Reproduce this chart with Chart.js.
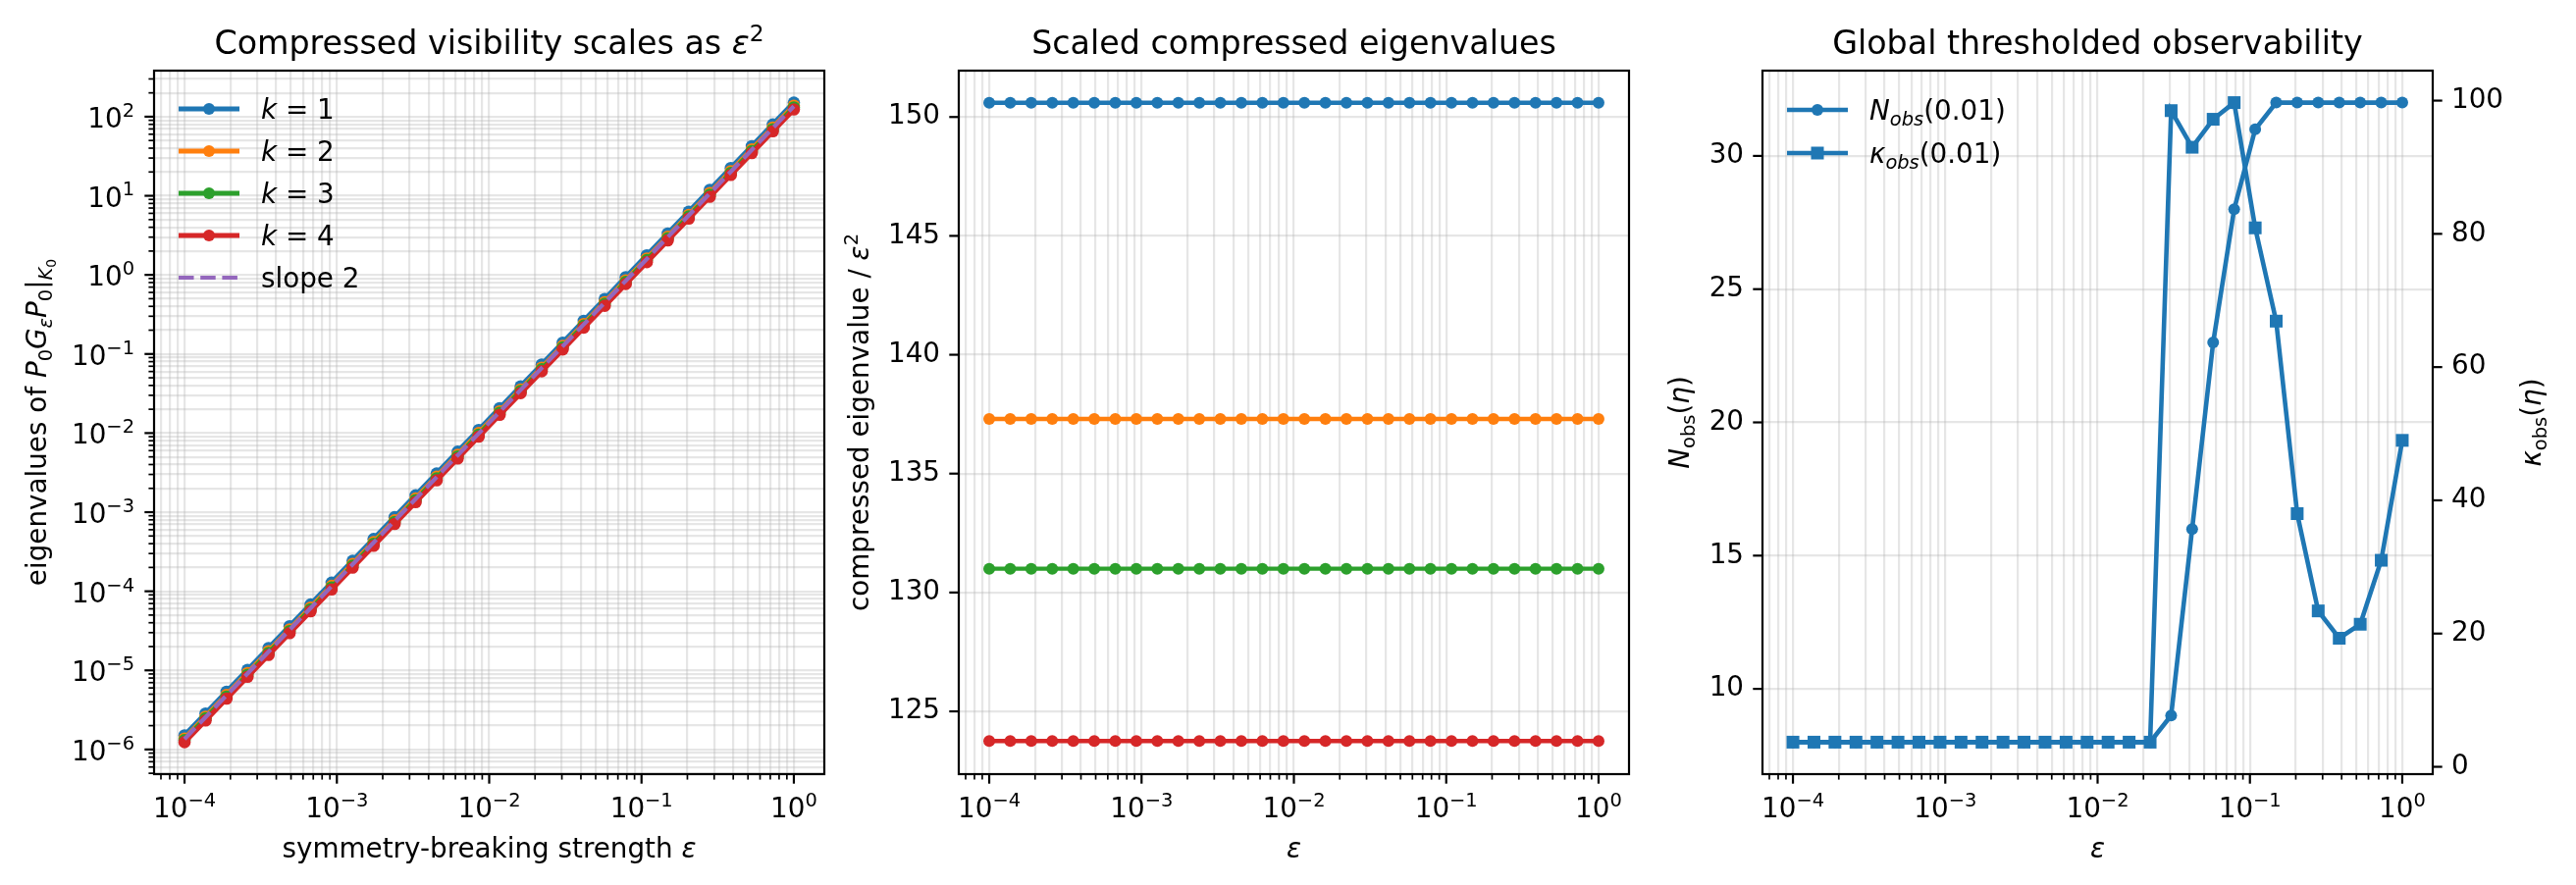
<!DOCTYPE html>
<html>
<head>
  <script src="https://cdn.jsdelivr.net/npm/chart.js"></script>
  <title>Compressed visibility</title>
  <style>
    body { margin: 0; background: #fff; }
    #wrap { position: relative; width: 2625px; height: 902px; overflow: hidden; background: #fff; }
    canvas { position: absolute; top: 0; }
  </style>
</head>
<body>
<div id="wrap">
  <canvas id="c1" width="900" height="902" style="left:0px"></canvas>
  <canvas id="c2" width="870" height="902" style="left:850px"></canvas>
  <canvas id="c3" width="945" height="902" style="left:1680px"></canvas>
</div>
<script>
// symmetry-breaking strengths (30 log-spaced points)
const eps = [1.000e-4, 1.374e-4, 1.887e-4, 2.593e-4, 3.562e-4, 4.894e-4, 6.723e-4, 9.237e-4,
  1.269e-3, 1.743e-3, 2.395e-3, 3.290e-3, 4.520e-3, 6.210e-3, 8.532e-3,
  1.172e-2, 1.610e-2, 2.212e-2, 3.039e-2, 4.175e-2, 5.736e-2, 7.880e-2,
  1.083e-1, 1.487e-1, 2.043e-1, 2.807e-1, 3.857e-1, 5.298e-1, 7.279e-1, 1.0];

// panel 1: eigenvalues of P0 G_eps P0 restricted to K0
const eigK1 = [1.506e-6, 2.842e-6, 5.364e-6, 1.013e-5, 1.911e-5, 3.607e-5, 6.807e-5, 1.285e-4,
  2.425e-4, 4.577e-4, 8.638e-4, 1.631e-3, 3.077e-3, 5.809e-3, 1.096e-2, 2.069e-2, 3.905e-2,
  7.370e-2, 1.391e-1, 2.625e-1, 4.955e-1, 9.352e-1, 1.765, 3.331, 6.288, 11.87, 22.40, 42.27, 79.79, 150.6];
const eigK2 = [1.373e-6, 2.591e-6, 4.891e-6, 9.231e-6, 1.742e-5, 3.288e-5, 6.206e-5, 1.171e-4,
  2.211e-4, 4.173e-4, 7.876e-4, 1.487e-3, 2.805e-3, 5.296e-3, 9.994e-3, 1.886e-2, 3.560e-2,
  6.719e-2, 1.268e-1, 2.393e-1, 4.517e-1, 8.526e-1, 1.609, 3.037, 5.732, 10.82, 20.42, 38.54, 72.74, 137.3];
const eigK3 = [1.310e-6, 2.472e-6, 4.666e-6, 8.807e-6, 1.662e-5, 3.137e-5, 5.921e-5, 1.118e-4,
  2.109e-4, 3.981e-4, 7.514e-4, 1.419e-3, 2.676e-3, 5.053e-3, 9.535e-3, 1.800e-2, 3.397e-2,
  6.411e-2, 1.210e-1, 2.283e-1, 4.310e-1, 8.135e-1, 1.535, 2.898, 5.469, 10.32, 19.48, 36.77, 69.40, 131.0];
const eigK4 = [1.237e-6, 2.334e-6, 4.406e-6, 8.316e-6, 1.570e-5, 2.963e-5, 5.591e-5, 1.055e-4,
  1.992e-4, 3.759e-4, 7.095e-4, 1.340e-3, 2.527e-3, 4.771e-3, 9.004e-3, 1.700e-2, 3.208e-2,
  6.054e-2, 1.143e-1, 2.156e-1, 4.070e-1, 7.682e-1, 1.450, 2.736, 5.164, 9.748, 18.39, 34.72, 65.54, 123.7];
const slope2 = [1.356e-6, 2.559e-6, 4.830e-6, 9.116e-6, 1.721e-5, 3.248e-5, 6.129e-5, 1.157e-4,
  2.183e-4, 4.121e-4, 7.778e-4, 1.469e-3, 2.770e-3, 5.230e-3, 9.870e-3, 1.863e-2, 3.516e-2,
  6.636e-2, 1.253e-1, 2.364e-1, 4.461e-1, 8.421e-1, 1.589, 3.000, 5.661, 10.69, 20.16, 38.06, 71.84, 135.6];

// panel 2: eigenvalue / eps^2
const scaledK1 = [150.6, 150.6, 150.6, 150.6, 150.6, 150.6, 150.6, 150.6, 150.6, 150.6, 150.6, 150.6, 150.6, 150.6, 150.6,
  150.6, 150.6, 150.6, 150.6, 150.6, 150.6, 150.6, 150.6, 150.6, 150.6, 150.6, 150.6, 150.6, 150.6, 150.6];
const scaledK2 = [137.3, 137.3, 137.3, 137.3, 137.3, 137.3, 137.3, 137.3, 137.3, 137.3, 137.3, 137.3, 137.3, 137.3, 137.3,
  137.3, 137.3, 137.3, 137.3, 137.3, 137.3, 137.3, 137.3, 137.3, 137.3, 137.3, 137.3, 137.3, 137.3, 137.3];
const scaledK3 = [131.0, 131.0, 131.0, 131.0, 131.0, 131.0, 131.0, 131.0, 131.0, 131.0, 131.0, 131.0, 131.0, 131.0, 131.0,
  131.0, 131.0, 131.0, 131.0, 131.0, 131.0, 131.0, 131.0, 131.0, 131.0, 131.0, 131.0, 131.0, 131.0, 131.0];
const scaledK4 = [123.75, 123.75, 123.75, 123.75, 123.75, 123.75, 123.75, 123.75, 123.75, 123.75, 123.75, 123.75, 123.75, 123.75, 123.75,
  123.75, 123.75, 123.75, 123.75, 123.75, 123.75, 123.75, 123.75, 123.75, 123.75, 123.75, 123.75, 123.75, 123.75, 123.75];

// panel 3: thresholded observability at eta = 0.01
const nObs = [8, 8, 8, 8, 8, 8, 8, 8, 8, 8, 8, 8, 8, 8, 8, 8, 8, 8, 9, 16, 23, 28, 31, 32, 32, 32, 32, 32, 32, 32];
const kappaObs = [3.7, 3.7, 3.7, 3.7, 3.7, 3.7, 3.7, 3.7, 3.7, 3.7, 3.7, 3.7, 3.7, 3.7, 3.7, 3.7, 3.7, 3.7,
  98.5, 93.0, 97.2, 99.7, 80.9, 66.9, 38.0, 23.4, 19.3, 21.4, 31.0, 49.0];

// tick labels (log axes: 10^exponent)
const epsDecades = [1e-4, 1e-3, 1e-2, 1e-1, 1];
const epsExponents = ['−4', '−3', '−2', '−1', '0'];
const eigDecades = [1e-6, 1e-5, 1e-4, 1e-3, 1e-2, 1e-1, 1, 10, 100];
const eigExponents = ['−6', '−5', '−4', '−3', '−2', '−1', '0', '1', '2'];
const scaledTicks = [125, 130, 135, 140, 145, 150];
const nObsTicks = [10, 15, 20, 25, 30];
const kappaTicks = [0, 20, 40, 60, 80, 100];

const FONT = 'DejaVu Sans';
const FS = 27.8;
const GRID = 'rgba(176,176,176,0.32)';
const C = ['#1f77b4', '#ff7f0e', '#2ca02c', '#d62728', '#9467bd'];

function pts(ys) { return eps.map((x, i) => ({ x: x, y: ys[i] })); }

function logTicks(lo, hi) {
  const out = [];
  for (let d = Math.floor(Math.log10(lo)); d <= Math.ceil(Math.log10(hi)); d++) {
    for (let m = 1; m <= 9; m++) {
      const v = m * Math.pow(10, d);
      if (v >= lo && v <= hi) out.push({ value: v, major: m === 1 });
    }
  }
  return out;
}
const tickFont = { family: FONT, size: FS };

function logAxis(pos, lo, hi, fit) {
  return {
    type: 'logarithmic', position: pos, min: lo, max: hi,
    afterBuildTicks: s => { s.ticks = logTicks(lo, hi); },
    afterFit: fit,
    grid: { color: GRID, lineWidth: 2.2, drawTicks: false },
    border: { display: false },
    ticks: { display: false, autoSkip: false }
  };
}
function linAxis(pos, lo, hi, ticks, fit, grid) {
  return {
    type: 'linear', position: pos, min: lo, max: hi,
    afterBuildTicks: s => { s.ticks = ticks.map(v => ({ value: v, major: true })); },
    afterFit: fit,
    grid: { display: grid, color: GRID, lineWidth: 2.2, drawTicks: false },
    border: { display: false },
    ticks: { padding: 19, color: '#000', font: tickFont, callback: v => String(v) }
  };
}

// mathtext-like runs: {t, it, sub, sup, ss}
function richWidth(ctx, runs, size) {
  let w = 0;
  for (const r of runs) {
    const s = r.ss ? size * 0.5 : (r.sub || r.sup) ? size * 0.7 : size;
    ctx.font = (r.it ? 'italic ' : '') + s + 'px "' + FONT + '"';
    w += ctx.measureText(r.t).width;
  }
  return w;
}
function rich(ctx, runs, x, y, size, align, rot) {
  ctx.save();
  ctx.translate(x, y);
  if (rot) ctx.rotate(rot);
  const total = richWidth(ctx, runs, size);
  let cx = align === 'center' ? -total / 2 : align === 'right' ? -total : 0;
  ctx.textAlign = 'left';
  ctx.textBaseline = 'alphabetic';
  ctx.fillStyle = '#000';
  for (const r of runs) {
    const s = r.ss ? size * 0.5 : (r.sub || r.sup) ? size * 0.7 : size;
    ctx.font = (r.it ? 'italic ' : '') + s + 'px "' + FONT + '"';
    const dy = r.sub ? size * 0.2 : r.sup ? -size * 0.4 : r.ss ? size * 0.36 : 0;
    ctx.fillText(r.t, cx, dy);
    cx += ctx.measureText(r.t).width;
  }
  ctx.restore();
}

function marker(ctx, style, x, y, r, color) {
  ctx.fillStyle = color;
  ctx.beginPath();
  if (style === 'rect') ctx.rect(x - r, y - r, 2 * r, 2 * r);
  else ctx.arc(x, y, r, 0, Math.PI * 2);
  ctx.fill();
}

// frame, tick marks, log tick labels, titles, axis labels, legend
function deco(cfg) {
  return {
    id: 'deco',
    afterDraw(chart) {
      const ctx = chart.ctx, a = chart.chartArea, ox = cfg.offX;
      ctx.save();
      ctx.strokeStyle = '#000';
      for (const id of Object.keys(chart.scales)) {
        const s = chart.scales[id];
        for (const t of s.ticks) {
          const len = t.major ? 9.7 : 5.6;
          ctx.lineWidth = t.major ? 2.2 : 1.7;
          const p = s.getPixelForValue(t.value);
          ctx.beginPath();
          if (s.axis === 'x') { ctx.moveTo(p, a.bottom); ctx.lineTo(p, a.bottom + len); }
          else if (s.position === 'left') { ctx.moveTo(a.left, p); ctx.lineTo(a.left - len, p); }
          else { ctx.moveTo(a.right, p); ctx.lineTo(a.right + len, p); }
          ctx.stroke();
        }
      }
      ctx.lineWidth = 2.2;
      ctx.strokeRect(a.left, a.top, a.right - a.left, a.bottom - a.top);
      // log-axis labels 10^k
      for (const L of cfg.logLabels) {
        const s = chart.scales[L.id];
        L.decs.forEach((v, i) => {
          const p = s.getPixelForValue(v);
          const runs = [{ t: '10' }, { t: L.exps[i], sup: true }];
          if (L.id === 'x') rich(ctx, runs, p, a.bottom + 44, FS, 'center', 0);
          else rich(ctx, runs, a.left - 20, p + 11, FS, 'right', 0);
        });
      }
      const mid = (a.left + a.right) / 2;
      rich(ctx, cfg.title, mid, 55, 33.3, 'center', 0);
      rich(ctx, cfg.xlabel, mid, 874, FS, 'center', 0);
      for (const yl of cfg.ylabels) rich(ctx, yl.runs, yl.x - ox, (a.top + a.bottom) / 2, FS, 'center', -Math.PI / 2);
      cfg.legend.forEach((e, i) => {
        const y = cfg.legY + i * cfg.legStep, x0 = cfg.legX - ox, x1 = x0 + 62;
        ctx.strokeStyle = e.color;
        ctx.lineWidth = e.lw;
        ctx.setLineDash(e.dash || []);
        ctx.beginPath(); ctx.moveTo(x0, y); ctx.lineTo(x1, y); ctx.stroke();
        ctx.setLineDash([]);
        if (e.pt) marker(ctx, e.pt, (x0 + x1) / 2, y, e.pt === 'rect' ? 6.5 : 6, e.color);
        rich(ctx, e.runs, x1 + 22, y + 10, FS, 'left', 0);
      });
      ctx.restore();
    }
  };
}

const base = {
  responsive: false, animation: false, devicePixelRatio: 1,
  plugins: { legend: { display: false }, tooltip: { enabled: false }, title: { display: false } },
  elements: { line: { tension: 0 } }
};

function ds(ys, color, lw, r, style, order, axis) {
  return { data: pts(ys), borderColor: color, backgroundColor: color, borderWidth: lw,
    pointRadius: r, pointStyle: style, pointBorderWidth: 0, pointHoverRadius: r, order: order,
    yAxisID: axis || 'y', fill: false };
}

const eps2 = [{ t: 'ε', it: true }, { t: '2', sup: true }];
const epsLabels = { id: 'x', decs: epsDecades, exps: epsExponents };

// Panel 1
const kNames = ['1', '2', '3', '4'];
const eigSeries = [eigK1, eigK2, eigK3, eigK4];
const ds1 = eigSeries.map((v, i) => ds(v, C[i], 5.2, 6.3, 'circle', 4 - i));
ds1.push(Object.assign(ds(slope2, C[4], 4.2, 0, 'circle', 0), { borderDash: [15.5, 6.7] }));
new Chart(document.getElementById('c1'), {
  type: 'line',
  data: { datasets: ds1 },
  options: Object.assign({}, base, {
    layout: { padding: { left: 0, top: 72, right: 60, bottom: 0 } },
    scales: {
      x: logAxis('bottom', Math.pow(10, -4.2), Math.pow(10, 0.2), s => { s.height = 113; }),
      y: logAxis('left', Math.pow(10, -6.3119), Math.pow(10, 2.5821), s => { s.width = 157; })
    }
  }),
  plugins: [deco({
    offX: 0,
    logLabels: [epsLabels, { id: 'y', decs: eigDecades, exps: eigExponents }],
    title: [{ t: 'Compressed visibility scales as ' }].concat(eps2),
    xlabel: [{ t: 'symmetry-breaking strength ' }, { t: 'ε', it: true }],
    ylabels: [{ x: 47, runs: [{ t: 'eigenvalues of ' }, { t: 'P', it: true }, { t: '0', sub: true }, { t: 'G', it: true },
      { t: 'ε', it: true, sub: true }, { t: 'P', it: true }, { t: '0', sub: true }, { t: '|' },
      { t: 'K', it: true, sub: true }, { t: '0', ss: true }] }],
    legX: 182, legY: 111, legStep: 43,
    legend: kNames.map((n, i) => ({ color: C[i], lw: 5.2, pt: 'circle', runs: [{ t: 'k', it: true }, { t: ' = ' + n }] }))
      .concat([{ color: C[4], lw: 4.2, dash: [15.5, 6.7], runs: [{ t: 'slope 2' }] }])
  })]
});

// Panel 2
const scaledSeries = [scaledK1, scaledK2, scaledK3, scaledK4];
new Chart(document.getElementById('c2'), {
  type: 'line',
  data: { datasets: scaledSeries.map((v, i) => ds(v, C[i], 4.4, 6, 'circle', 4 - i)) },
  options: Object.assign({}, base, {
    layout: { padding: { left: 0, top: 72, right: 60, bottom: 0 } },
    scales: {
      x: logAxis('bottom', Math.pow(10, -4.2), Math.pow(10, 0.2), s => { s.height = 113; }),
      y: linAxis('left', 122.36, 151.95, scaledTicks, s => { s.width = 127; }, true)
    }
  }),
  plugins: [deco({
    offX: 850,
    logLabels: [epsLabels],
    title: [{ t: 'Scaled compressed eigenvalues' }],
    xlabel: [{ t: 'ε', it: true }],
    ylabels: [{ x: 885, runs: [{ t: 'compressed eigenvalue / ' }].concat(eps2) }],
    legX: 0, legY: 0, legStep: 0, legend: []
  })]
});

// Panel 3
new Chart(document.getElementById('c3'), {
  type: 'line',
  data: { datasets: [
    ds(nObs, C[0], 4.6, 6, 'circle', 1, 'y'),
    ds(kappaObs, C[0], 4.6, 9.2, 'rect', 0, 'y1')
  ] },
  options: Object.assign({}, base, {
    layout: { padding: { left: 0, top: 72, right: 0, bottom: 0 } },
    scales: {
      x: logAxis('bottom', Math.pow(10, -4.2), Math.pow(10, 0.2), s => { s.height = 113; }),
      y: linAxis('left', 6.8, 33.2, nObsTicks, s => { s.width = 116; }, true),
      y1: linAxis('right', -1.1, 104.5, kappaTicks, s => { s.width = 146; }, false)
    }
  }),
  plugins: [deco({
    offX: 1680,
    logLabels: [epsLabels],
    title: [{ t: 'Global thresholded observability' }],
    xlabel: [{ t: 'ε', it: true }],
    ylabels: [
      { x: 1721, runs: [{ t: 'N', it: true }, { t: 'obs', sub: true }, { t: '(' }, { t: 'η', it: true }, { t: ')' }] },
      { x: 2589, runs: [{ t: 'κ', it: true }, { t: 'obs', sub: true }, { t: '(' }, { t: 'η', it: true }, { t: ')' }] }
    ],
    legX: 1821, legY: 112, legStep: 44,
    legend: [
      { color: C[0], lw: 4.6, pt: 'circle', runs: [{ t: 'N', it: true }, { t: 'obs', it: true, sub: true }, { t: '(0.01)' }] },
      { color: C[0], lw: 4.6, pt: 'rect', runs: [{ t: 'κ', it: true }, { t: 'obs', it: true, sub: true }, { t: '(0.01)' }] }
    ]
  })]
});
</script>
</body>
</html>
